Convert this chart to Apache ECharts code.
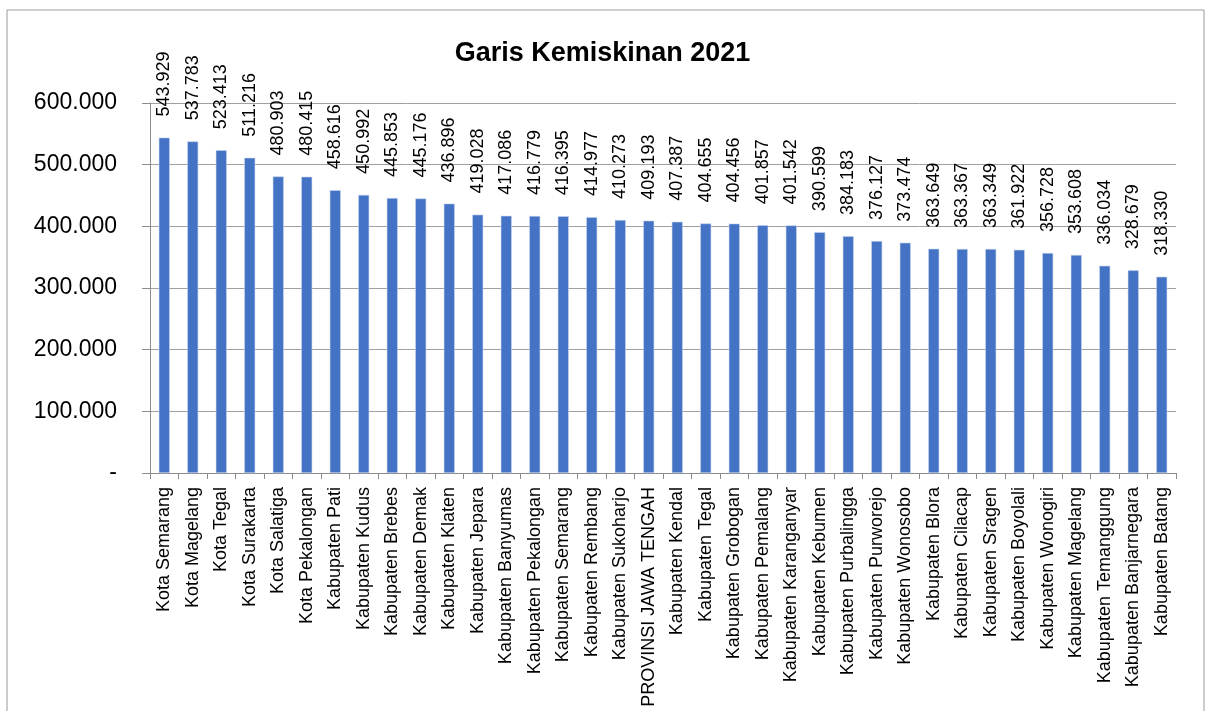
<!DOCTYPE html>
<html>
<head>
<meta charset="utf-8">
<script src="https://cdn.jsdelivr.net/npm/echarts@6/dist/echarts.min.js"></script>
<style>
  html, body { margin: 0; padding: 0; background: #fff; }
  #chart { width: 1205px; height: 711px; }
</style>
</head>
<body>
<div id="chart"></div>
<script>
var title = "Garis Kemiskinan 2021";
var categories = [
  "Kota Semarang", "Kota Magelang", "Kota Tegal", "Kota Surakarta", "Kota Salatiga",
  "Kota Pekalongan", "Kabupaten Pati", "Kabupaten Kudus", "Kabupaten Brebes", "Kabupaten Demak",
  "Kabupaten Klaten", "Kabupaten Jepara", "Kabupaten Banyumas", "Kabupaten Pekalongan", "Kabupaten Semarang",
  "Kabupaten Rembang", "Kabupaten Sukoharjo", "PROVINSI JAWA TENGAH", "Kabupaten Kendal", "Kabupaten Tegal",
  "Kabupaten Grobogan", "Kabupaten Pemalang", "Kabupaten Karanganyar", "Kabupaten Kebumen", "Kabupaten Purbalingga",
  "Kabupaten Purworejo", "Kabupaten Wonosobo", "Kabupaten Blora", "Kabupaten Cilacap", "Kabupaten Sragen",
  "Kabupaten Boyolali", "Kabupaten Wonogiri", "Kabupaten Magelang", "Kabupaten Temanggung", "Kabupaten Banjarnegara",
  "Kabupaten Batang"
];
var values = [
  543929, 537783, 523413, 511216, 480903,
  480415, 458616, 450992, 445853, 445176,
  436896, 419028, 417086, 416779, 416395,
  414977, 410273, 409193, 407387, 404655,
  404456, 401857, 401542, 390599, 384183,
  376127, 373474, 363649, 363367, 363349,
  361922, 356728, 353608, 336034, 328679,
  318330
];
var yTicks = [0, 100000, 200000, 300000, 400000, 500000, 600000];

// Excel-style: dot thousands, dash for zero
function fmt(v) {
  if (v === 0) return "-";
  return String(Math.round(v)).replace(/\B(?=(\d{3})+(?!\d))/g, ".");
}

var font = "Liberation Sans";
var chart = echarts.init(document.getElementById("chart"));
chart.setOption({
  animation: false,
  backgroundColor: "#fff",
  title: {
    text: title,
    left: "center",
    top: 35,
    textStyle: { fontFamily: font, fontSize: 27, fontWeight: "bold", color: "#000" }
  },
  graphic: [{
    type: "rect",
    shape: { x: 7, y: 10, width: 1197, height: 720 },
    style: { fill: "none", stroke: "#9a9a9a", lineWidth: 1 },
    silent: true
  }],
  grid: {
    left: 150, right: 29, top: 103, bottom: 238,
    containLabel: false,
    outerBoundsMode: "none"
  },
  xAxis: {
    type: "category",
    data: categories,
    axisLine: { lineStyle: { color: "#8c8c8c", width: 1 } },
    axisTick: { show: true, length: 6, lineStyle: { color: "#8c8c8c" } },
    axisLabel: {
      interval: 0,
      rotate: 90,
      margin: 14,
      fontFamily: font,
      fontSize: 18,
      color: "#000"
    }
  },
  yAxis: {
    type: "value",
    min: yTicks[0],
    max: yTicks[yTicks.length - 1],
    interval: 100000,
    axisLine: { show: true, lineStyle: { color: "#8c8c8c" } },
    axisTick: { show: true, length: 8, lineStyle: { color: "#8c8c8c" } },
    splitLine: { show: true, lineStyle: { color: "#a0a0a0", width: 1 } },
    axisLabel: {
      margin: 33,
      fontFamily: font,
      fontSize: 23,
      color: "#000",
      formatter: fmt
    }
  },
  series: [{
    type: "bar",
    data: values,
    barWidth: 11,
    itemStyle: { color: "#4472C4", borderColor: "#c5d3ee", borderWidth: 0.6 },
    label: {
      show: true,
      position: "top",
      rotate: 90,
      align: "left",
      verticalAlign: "middle",
      distance: 21,
      fontFamily: font,
      fontSize: 18,
      color: "#000",
      formatter: function (p) { return fmt(p.value); }
    }
  }]
});
</script>
</body>
</html>
